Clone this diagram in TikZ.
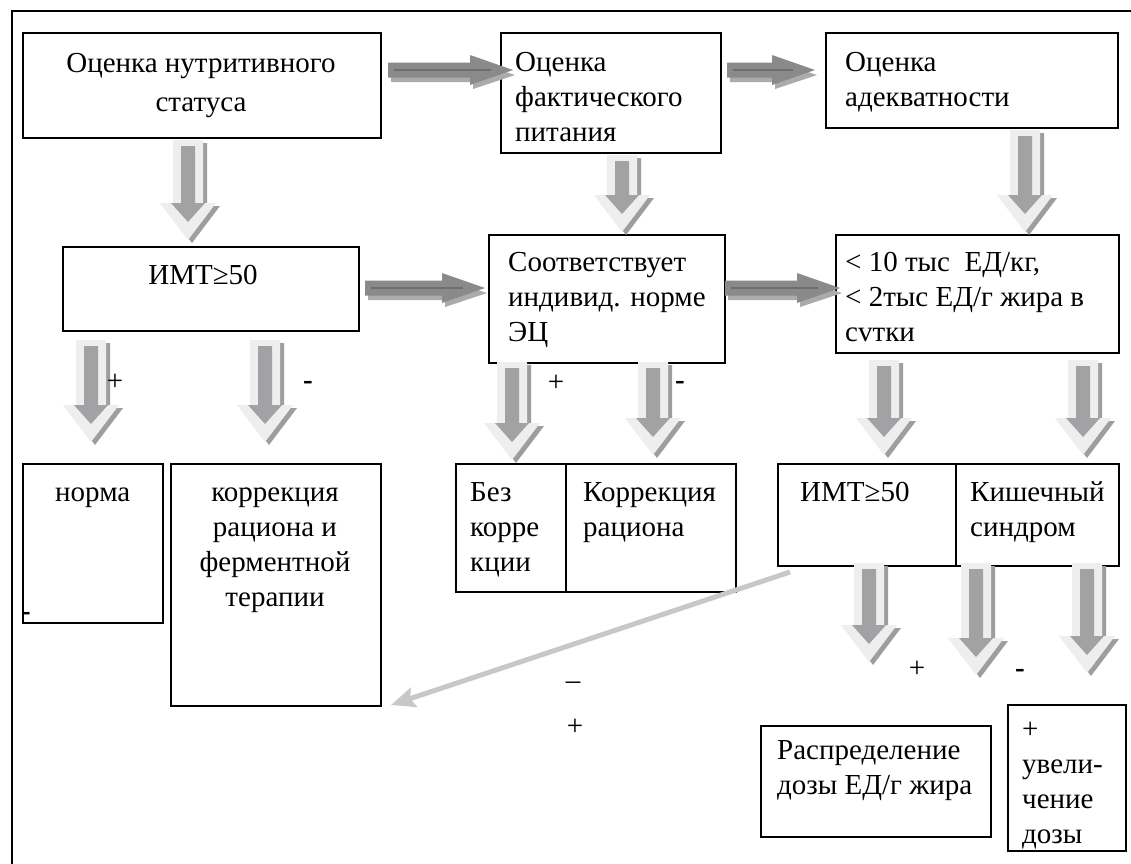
\documentclass[tikz,border=0pt]{standalone}
\usepackage{fontspec}
\setmainfont{Liberation Serif}
\usetikzlibrary{arrows.meta}
\definecolor{blklight}{HTML}{EEEEEE}
\definecolor{blkinner}{HTML}{A2A2A4}
\definecolor{blkshadow}{HTML}{9E9E9E}
\definecolor{hmain}{HTML}{8A8A8A}
\definecolor{hline}{HTML}{6E6E6E}
\definecolor{hshadow}{HTML}{ABABAB}
\definecolor{thinarrow}{HTML}{C8C8C8}
\newcommand\blkdown[3]{%
  \begin{scope}[shift={(#1,#2)}]
    \pgfmathsetmacro\blkL{#3-#2}
    \pgfmathsetmacro\blkH{\blkL-37}
    \pgfmathsetmacro\blkI{\blkL-18}
    \fill[blkshadow] (-11,3) -- (19,3) -- (19,\blkH+3) -- (32,\blkH+3) -- (4,\blkL+3) -- (-24,\blkH+3) -- (-11,\blkH+3) -- cycle;
    \fill[blklight] (-15,0) -- (15,0) -- (15,\blkH) -- (28,\blkH) -- (0,\blkL) -- (-28,\blkH) -- (-15,\blkH) -- cycle;
    \fill[blkinner] (-7,6) -- (7,6) -- (7,\blkH) -- (17,\blkH) -- (0,\blkI) -- (-17,\blkH) -- (-7,\blkH) -- cycle;
  \end{scope}}
\newcommand\blkright[3]{%
  \begin{scope}[shift={(#1,#3)}]
    \pgfmathsetmacro\blkL{#2-#1}
    \pgfmathsetmacro\blkH{\blkL-43}
    \fill[hshadow] (3,-2) -- (\blkH+3,-2) -- (\blkH+3,-9) -- (\blkL+2,5) -- (\blkH+3,19) -- (\blkH+3,12) -- (3,12) -- cycle;
    \fill[hmain] (0,-7.5) -- (\blkH,-7.5) -- (\blkH,-15) -- (\blkL,0) -- (\blkH,15) -- (\blkH,7.5) -- (0,7.5) -- cycle;
    \draw[hline, line width=1.3pt] (6,0) -- (\blkL-22,0);
  \end{scope}}
\tikzset{
  box/.style={draw=black, line width=1.6pt, inner sep=0pt, anchor=north west},
  txt/.style={inner sep=0pt, anchor=base west, align=left, font=\fontsize{29}{35}\selectfont},
  ctxt/.style={inner sep=0pt, anchor=base, align=center, font=\fontsize{29}{35}\selectfont},
  sign/.style={inner sep=0pt, font=\fontsize{29}{35}\selectfont},
  bsign/.style={inner sep=0pt, font=\fontsize{29}{35}\selectfont\bfseries},
}
\begin{document}
\begin{tikzpicture}[x=1pt, y=-1pt]
\useasboundingbox (0,0) rectangle (1131,863);
\fill[white] (0,0) rectangle (1131,863);
% outer frame
\draw[line width=1.6pt] (12,875) -- (12,11) -- (1145,11);
% boxes
\node[box, minimum width=358, minimum height=105] (b1) at (22,32) {};
\node[box, minimum width=220, minimum height=120] (b2) at (500,32) {};
\node[box, minimum width=292, minimum height=95] (b3) at (825,32) {};
\node[box, minimum width=296, minimum height=84] (b4) at (62,246) {};
\node[box, minimum width=236, minimum height=128] (b5) at (488,234) {};
\node[box, minimum width=283, minimum height=118] (b6) at (835,234) {};
\node[box, minimum width=140, minimum height=159] (c1) at (22,463) {};
\node[box, minimum width=210, minimum height=242] (c2) at (170,463) {};
\node[box, minimum width=110, minimum height=128] (c3) at (455,463) {};
\node[box, minimum width=170, minimum height=128] (c4) at (565,463) {};
\node[box, minimum width=178, minimum height=102] (c5) at (777,463) {};
\node[box, minimum width=163, minimum height=102] (c6) at (955,463) {};
\node[box, minimum width=230, minimum height=111] (d1) at (760,725) {};
\node[box, minimum width=118, minimum height=146] (d2) at (1007,704) {};
% texts (anchored at the baseline of their last line)
\node[ctxt, font=\fontsize{29}{39}\selectfont] (t1) at (201,111) {Оценка нутритивного\\статуса};
\node[txt] (t2) at (515,141) {Оценка\\фактического\\питания};
\node[txt] (t3) at (845,106) {Оценка\\адекватности};
\node[ctxt] (t4) at (203,284) {ИМТ≥50};
\node[txt] (t5) at (508,341) {Соответствует\\индивид. норме\\ЭЦ};
\node[txt] (t6) at (845,341) {< 10 тыс\ \ ЕД/кг,\\< 2тыс ЕД/г жира в\\сvтки};
\node[txt] (t7) at (55,501) {норма};
\node[ctxt] (t8) at (275,606) {коррекция\\рациона и\\ферментной\\терапии};
\node[txt] (t9) at (470,571) {Без\\корре\\кции};
\node[txt] (t10) at (583,536) {Коррекция\\рациона};
\node[txt] (t11) at (800,501) {ИМТ≥50};
\node[txt] (t12) at (970,536) {Кишечный\\синдром};
\node[txt] (t13) at (777,794) {Распределение\\дозы ЕД/г жира};
\node[txt] (t14) at (1022,843) {+\\увели-\\чение\\дозы};
% horizontal block arrows
\blkright{388}{513}{70}
\blkright{727}{815}{70}
\blkright{365}{485}{288}
\blkright{725}{840}{288}
% vertical block arrows
\blkdown{188}{140}{240}
\blkdown{622}{155}{232}
\blkdown{1025}{130}{232}
\blkdown{91}{340}{442}
\blkdown{265}{340}{442}
\blkdown{512}{362}{460}
\blkdown{653}{362}{455}
\blkdown{884}{360}{455}
\blkdown{1083}{360}{455}
\blkdown{869}{563}{662}
\blkdown{976}{563}{675}
\blkdown{1087}{563}{673}
% signs
\node[sign] (p1) at (115,382) {+};
\node[bsign] (m1) at (308,385) {-};
\node[sign] (p2) at (556,383) {+};
\node[bsign] (m2) at (680,385) {-};
\node[sign] (p3) at (917,669) {+};
\node[bsign] (m3) at (1020,673) {-};
\node[bsign] (m4) at (26,616) {-};
\node[sign] (m5) at (573,686) {–};
\node[sign] (p4) at (575,727) {+};
% thin grey arrow
\coordinate (gs) at (790,572);
\coordinate (ge) at (391,705);
\draw[thinarrow, line width=5pt, -{Stealth[length=24pt, width=20pt, inset=4pt]}] (gs) -- (ge);
\end{tikzpicture}
\end{document}
